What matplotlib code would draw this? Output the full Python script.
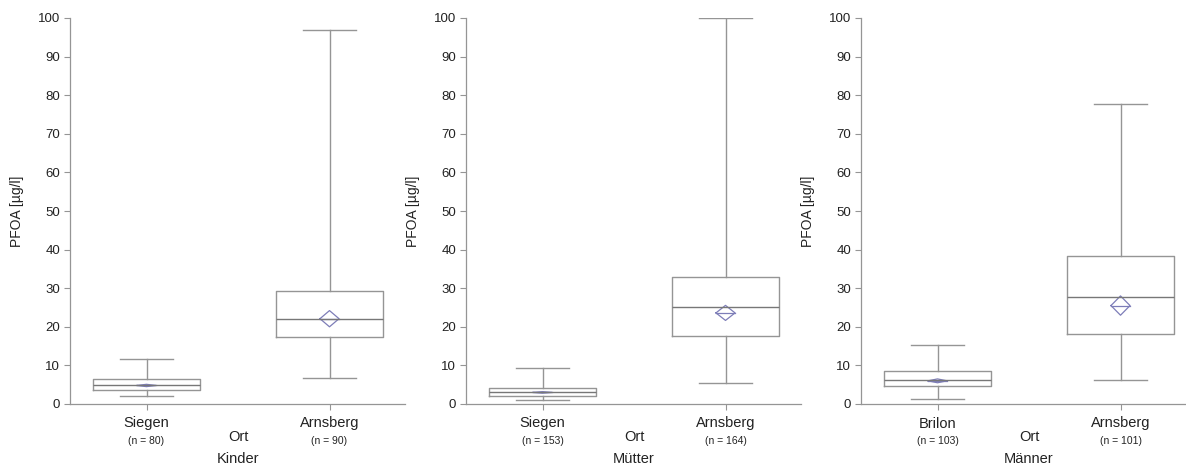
import numpy as np
import matplotlib.pyplot as plt

plt.rcParams['font.family'] = ['Liberation Sans', 'DejaVu Sans']

# PFOA values, one entry per panel
groups = ['Kinder', 'Mütter', 'Männer']
places = [['Siegen', 'Arnsberg'], ['Siegen', 'Arnsberg'], ['Brilon', 'Arnsberg']]
n_labels = [['(n = 80)', '(n = 90)'], ['(n = 153)', '(n = 164)'], ['(n = 103)', '(n = 101)']]

whis_lo = [[2.1, 6.7], [1.0, 5.4], [1.2, 6.3]]
q1 = [[3.6, 17.4], [2.2, 17.6], [4.6, 18.1]]
median = [[5.0, 22.1], [3.0, 25.1], [6.1, 27.6]]
q3 = [[6.6, 29.4], [4.2, 33.0], [8.5, 38.4]]
whis_hi = [[11.7, 96.9], [9.3, 99.9], [15.4, 77.7]]
mean = [[4.8, 22.1], [3.0, 23.6], [6.0, 25.5]]
mean_ci = [[0.3, 2.1], [0.2, 1.95], [0.5, 2.5]]  # half height of the diamond

line_col = '#959595'
diamond_col = '#7d7db8'
text_col = '#222222'

fig = plt.figure(figsize=(11.86, 4.66), dpi=100)
W, H = 1186, 466
lefts = [70, 466, 861]
ax_w, ax_top, ax_bot = 335, 18, 404

for k, grp in enumerate(groups):
    ax = fig.add_axes([lefts[k] / W, (H - ax_bot) / H, ax_w / W, (ax_bot - ax_top) / H])
    stats = []
    for i in range(2):
        stats.append(dict(med=median[k][i], q1=q1[k][i], q3=q3[k][i],
                          whislo=whis_lo[k][i], whishi=whis_hi[k][i], fliers=[]))
    props = dict(color=line_col, linewidth=1.0)
    ax.bxp(stats, positions=[1, 2], widths=0.585, showfliers=False,
           boxprops=props, whiskerprops=props, capprops=props,
           medianprops=dict(color='#777777', linewidth=1.0), capwidths=0.29)

    # mean diamonds
    dw = 0.052
    for i, pos in enumerate([1, 2]):
        m, c = mean[k][i], mean_ci[k][i]
        ax.plot([pos - dw, pos, pos + dw, pos, pos - dw],
                [m, m + c, m, m - c, m], color=diamond_col, linewidth=0.9)
        ax.plot([pos - dw, pos + dw], [m, m], color=diamond_col, linewidth=0.9)

    ax.set_xlim(1 - 76.5 / 183, 1 + (ax_w - 76.5) / 183)
    ax.set_ylim(0, 100)
    ax.set_yticks(np.arange(0, 101, 10))
    ax.set_xticks([1, 2])
    ax.set_xticklabels(places[k], fontsize=10.5, color=text_col)
    ax.tick_params(axis='y', labelsize=9.5, colors=line_col, labelcolor=text_col,
                   length=4, width=0.8, pad=3)
    ax.tick_params(axis='x', colors=line_col, labelcolor=text_col,
                   length=4, width=0.8, pad=5)
    for s in ['top', 'right']:
        ax.spines[s].set_visible(False)
    for s in ['left', 'bottom']:
        ax.spines[s].set_color(line_col)
        ax.spines[s].set_linewidth(0.9)
    ax.set_ylabel('PFOA [µg/l]', fontsize=10, color=text_col, labelpad=10)

    # n labels, axis title and group name below the axis
    for i, pos in enumerate([1, 2]):
        ax.annotate(n_labels[k][i], xy=(pos, 0), xycoords=('data', 'axes fraction'),
                    xytext=(0, -37), textcoords='offset pixels', ha='center',
                    va='center', fontsize=7.5, color=text_col)
    ax.annotate('Ort', xy=(1.5, 0), xycoords=('data', 'axes fraction'),
                xytext=(0, -33), textcoords='offset pixels', ha='center',
                va='center', fontsize=10.5, color=text_col)
    ax.annotate(grp, xy=(1.5, 0), xycoords=('data', 'axes fraction'),
                xytext=(0, -55), textcoords='offset pixels', ha='center',
                va='center', fontsize=10.5, color=text_col)

fig.savefig('out.png', dpi=100)
